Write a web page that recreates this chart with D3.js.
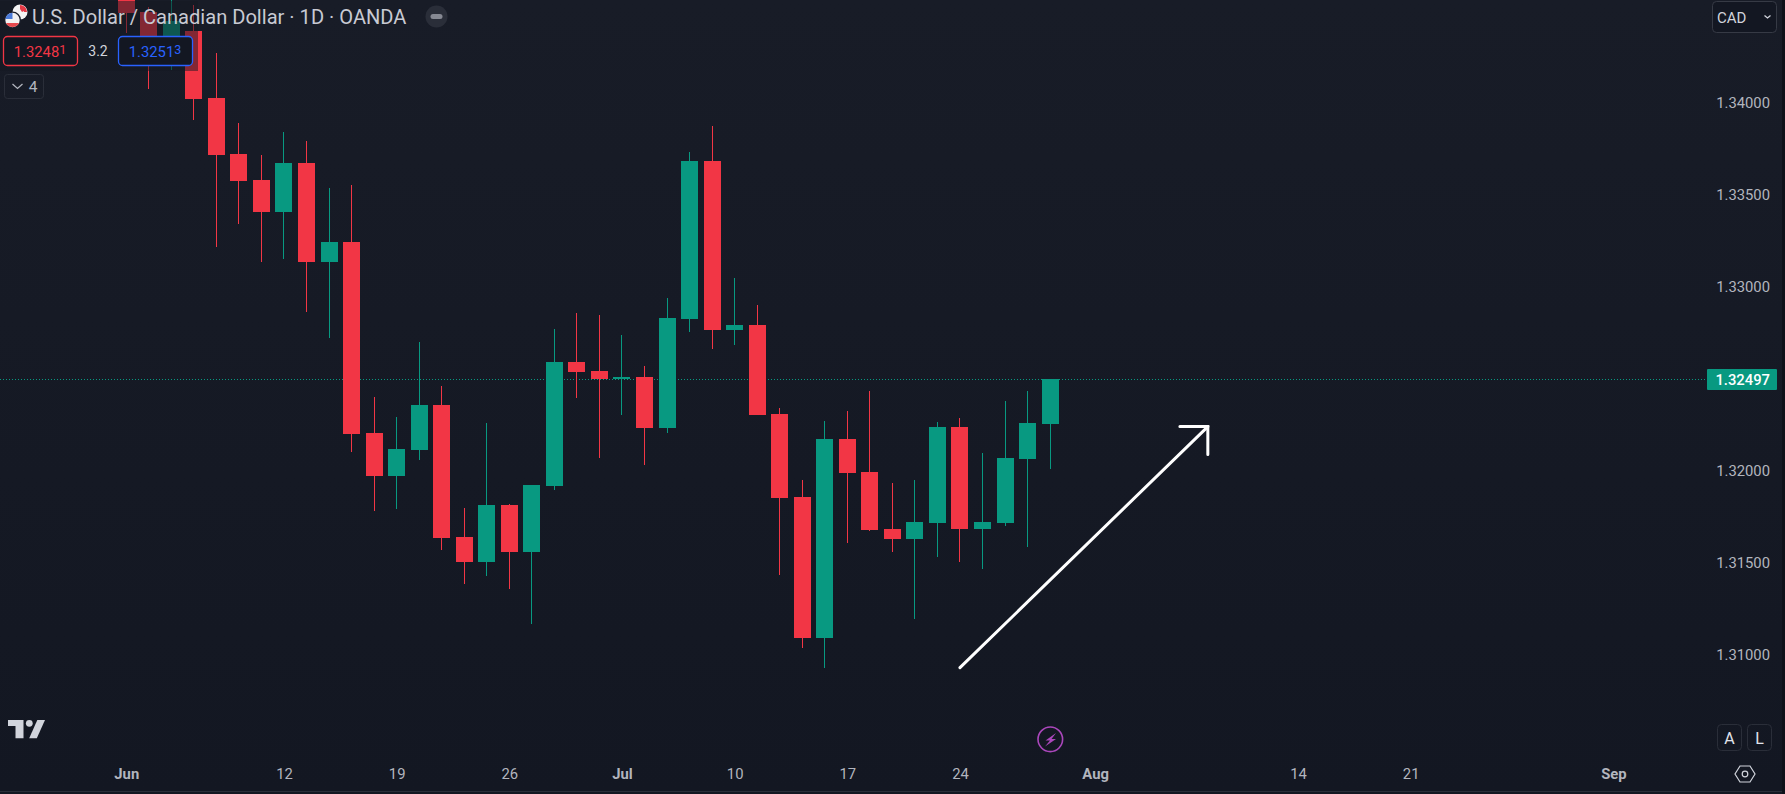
<!DOCTYPE html>
<html>
<head>
<meta charset="utf-8">
<script src="https://cdn.jsdelivr.net/npm/d3@7"></script>
<style>
  html, body { margin: 0; padding: 0; background: #131722; overflow: hidden; }
  text { font-family: Roboto, sans-serif; }
</style>
</head>
<body>
<svg id="chart" width="1785" height="794"></svg>
<script>
// USD/CAD daily candles, Jun 1 to Jul 28. Index = trading day.
const opens = [1.34603,1.34495,1.34315,1.34391,1.34027,1.33723,1.33582,1.33408,1.33674,1.33136,1.33245,1.32207,1.31973,1.32114,
  1.32359,1.31641,1.31505,1.31815,1.31560,1.31918,1.32592,1.32543,1.32500,1.32511,1.32234,1.32826,1.33685,1.32766,1.32793,1.32310,
  1.31859,1.31092,1.32174,1.31995,1.31685,1.31630,1.31717,1.32239,1.31685,1.31717,1.32065,1.32255];
const highs = [1.34668,1.34522,1.34614,1.34533,1.34272,1.33891,1.33717,1.33842,1.33793,1.33538,1.33554,1.32402,1.32293,1.32701,
  1.32462,1.31799,1.32261,1.31821,1.31924,1.32772,1.32859,1.32848,1.32739,1.32571,1.32940,1.33734,1.33875,1.33049,1.32902,1.32342,
  1.31951,1.32272,1.32326,1.32435,1.31935,1.31951,1.32266,1.32288,1.32098,1.32380,1.32435,1.32497];
const lows = [1.34380,1.34076,1.34179,1.33908,1.33215,1.33342,1.33136,1.33152,1.32864,1.32723,1.32103,1.31783,1.31794,1.32060,
  1.31571,1.31386,1.31429,1.31359,1.31168,1.31897,1.32397,1.32071,1.32304,1.32033,1.32207,1.32755,1.32663,1.32685,1.32304,1.31435,
  1.31038,1.30929,1.31609,1.31674,1.31560,1.31196,1.31533,1.31505,1.31467,1.31701,1.31587,1.32011];
const closes = [1.34489,1.34315,1.34446,1.34022,1.33717,1.33576,1.33408,1.33674,1.33136,1.33245,1.32201,1.31973,1.32120,1.32359,
  1.31636,1.31505,1.31815,1.31560,1.31924,1.32592,1.32538,1.32500,1.32511,1.32234,1.32832,1.33685,1.32766,1.32793,1.32304,1.31853,
  1.31092,1.32174,1.31989,1.31679,1.31630,1.31723,1.32239,1.31685,1.31723,1.32071,1.32261,1.32497];

const priceTicks = [1.31, 1.315, 1.32, 1.33, 1.335, 1.34];
const dateTickIdx = [0, 7, 12, 17, 22, 27, 32, 37, 43, 52, 57, 66];
const dateTickLabels = ["Jun", "12", "19", "26", "Jul", "10", "17", "24", "Aug", "14", "21", "Sep"];
const monthLabels = ["Jun", "Jul", "Aug", "Sep"];
const lastPrice = 1.32497;

// trend arrow drawn on the chart: [bar index, price]
const arrowLine = [[37, 1.30929], [48, 1.32239]];
const arrowHead = [[46.76, 1.32239], [48, 1.32239], [48, 1.32087]];

const upColor = "#089981", downColor = "#f23645", textColor = "#b2b5be";

const svg = d3.select("#chart");

const grad = svg.append("defs").append("linearGradient")
  .attr("id", "bg").attr("x1", 0).attr("x2", 0).attr("y1", 0).attr("y2", 1);
grad.append("stop").attr("offset", 0).attr("stop-color", "#181c27");
grad.append("stop").attr("offset", 1).attr("stop-color", "#131722");
svg.append("rect").attr("width", 1785).attr("height", 794).attr("fill", "url(#bg)");

const x = d3.scaleLinear().domain([0, 66]).range([126.25, 1613.43]);
const y = d3.scaleLinear().domain([1.31, 1.34]).range([654.6, 102.6]);

// last price line sits under the candles
svg.append("line")
  .attr("x1", 0).attr("x2", 1707)
  .attr("y1", Math.floor(y(lastPrice)) + 0.5).attr("y2", Math.floor(y(lastPrice)) + 0.5)
  .attr("stroke", upColor).attr("stroke-width", 1).attr("stroke-dasharray", "1 2");

const candles = svg.append("g").attr("shape-rendering", "crispEdges")
  .selectAll("g").data(d3.range(opens.length)).enter().append("g")
  .attr("fill", i => closes[i] >= opens[i] ? upColor : downColor);

candles.append("rect")
  .attr("x", i => Math.floor(x(i)))
  .attr("width", 1)
  .attr("y", i => Math.round(y(highs[i])))
  .attr("height", i => Math.max(1, Math.round(y(lows[i])) - Math.round(y(highs[i]))));

candles.append("rect")
  .attr("x", i => Math.floor(x(i)) - 8)
  .attr("width", 17)
  .attr("y", i => Math.round(y(Math.max(opens[i], closes[i]))))
  .attr("height", i => Math.max(1, Math.round(y(Math.min(opens[i], closes[i]))) - Math.round(y(Math.max(opens[i], closes[i])))));

// arrow
const arrowGen = d3.line().x(d => x(d[0])).y(d => y(d[1]));
svg.append("path").attr("d", arrowGen(arrowLine))
  .attr("fill", "none").attr("stroke", "#fff").attr("stroke-width", 3).attr("stroke-linecap", "round");
svg.append("path").attr("d", arrowGen(arrowHead))
  .attr("fill", "none").attr("stroke", "#fff").attr("stroke-width", 3).attr("stroke-linecap", "round").attr("stroke-linejoin", "miter");

// the legend panel dims whatever is behind it
svg.append("rect").attr("x", 0).attr("y", 1).attr("width", 198).attr("height", 70)
  .attr("fill", "#131722").attr("fill-opacity", 0.5);

// price axis
const priceAxis = svg.append("g").attr("transform", "translate(1770,0)")
  .call(d3.axisLeft(y).tickValues(priceTicks).tickSize(0).tickPadding(0).tickFormat(d => d.toFixed(5)));
priceAxis.select(".domain").remove();
priceAxis.selectAll("text").attr("fill", textColor).style("font-size", "14.8px").style("font-family", "Roboto, sans-serif");

// time axis
const timeAxis = svg.append("g").attr("transform", "translate(0,779)")
  .call(d3.axisBottom(x).tickValues(dateTickIdx).tickSize(0).tickPadding(0)
    .tickFormat((d, i) => dateTickLabels[i]));
timeAxis.select(".domain").remove();
timeAxis.selectAll("text").attr("y", 0).attr("dy", 0).attr("fill", textColor)
  .style("font-size", "14.8px").style("font-family", "Roboto, sans-serif")
  .style("font-weight", (d, i) => monthLabels.includes(dateTickLabels[i]) ? 700 : 400);

// panel borders
svg.append("rect").attr("x", 0).attr("y", 791).attr("width", 1785).attr("height", 1).attr("fill", "#2a2e39");
svg.append("rect").attr("x", 1782).attr("y", 0).attr("width", 3).attr("height", 794).attr("fill", "#0e1119");

// last price tag
svg.append("rect").attr("x", 1707).attr("y", 369).attr("width", 70).attr("height", 21).attr("rx", 1).attr("fill", upColor);
svg.append("text").attr("x", 1770).attr("y", 384.5).attr("text-anchor", "end")
  .attr("fill", "#fff").style("font-size", "14.8px").style("font-weight", 500).text(lastPrice.toFixed(5));

// title
svg.append("text").attr("x", 32).attr("y", 24).attr("fill", "#c8cad3")
  .style("font-size", "20.1px").style("font-family", "Roboto, sans-serif")
  .text("U.S. Dollar / Canadian Dollar · 1D · OANDA");

// flags
const canada = svg.append("g");
canada.append("circle").attr("cx", 20).attr("cy", 12).attr("r", 7.5).attr("fill", "#f4f4f4");
canada.append("path").attr("d", "M20 5a7 7 0 0 1 7 7h-3v-1l-2 1-2-3z").attr("fill", "#e53945");
const usa = svg.append("g");
usa.append("circle").attr("cx", 12.5).attr("cy", 20).attr("r", 8.5).attr("fill", "#1b1f2b");
usa.append("circle").attr("cx", 12.5).attr("cy", 20).attr("r", 7.2).attr("fill", "#f2f2f2");
usa.append("path").attr("d", "M6 23h13a7.2 7.2 0 0 1-13 0z").attr("fill", "#e5484d");
usa.append("path").attr("d", "M5.4 19a7.2 7.2 0 0 1 7.1-6.2v6.2z").attr("fill", "#4b7bd8");

// hide button
svg.append("circle").attr("cx", 436.5).attr("cy", 16.5).attr("r", 11).attr("fill", "#2a2e39");
svg.append("rect").attr("x", 430.5).attr("y", 14).attr("width", 12).attr("height", 5).attr("rx", 2.5).attr("fill", "#868993");

// bid / ask boxes
function priceBox(left, color, main, sup) {
  svg.append("rect").attr("x", left + 0.5).attr("y", 36.5).attr("width", 74).attr("height", 29).attr("rx", 4)
    .attr("fill", "#131722").attr("stroke", color).attr("stroke-width", 1.3);
  const t = svg.append("text").attr("x", left + 37).attr("y", 57).attr("text-anchor", "middle")
    .attr("fill", color).style("font-size", "14.8px").text(main);
  t.append("tspan").attr("dy", -3).style("font-size", "12.5px").text(sup);
}
priceBox(3, downColor, "1.3248", "1");
priceBox(118, "#2962ff", "1.3251", "3");
svg.append("text").attr("x", 98).attr("y", 56).attr("text-anchor", "middle").attr("fill", "#d1d4dc")
  .style("font-size", "14px").text("3.2");

// collapsed indicators
svg.append("rect").attr("x", 4.5).attr("y", 74.5).attr("width", 39).attr("height", 24).attr("rx", 3)
  .attr("fill", "none").attr("stroke", "#2a2e39");
svg.append("path").attr("d", "M12.5 84l5 4.5 5-4.5").attr("fill", "none").attr("stroke", "#b2b5be").attr("stroke-width", 1.3);
svg.append("text").attr("x", 33).attr("y", 92).attr("text-anchor", "middle").attr("fill", "#b2b5be")
  .style("font-size", "15.5px").text("4");

// currency button
svg.append("rect").attr("x", 1712.5).attr("y", 1.5).attr("width", 64).attr("height", 31).attr("rx", 4)
  .attr("fill", "#131722").attr("stroke", "#363a45");
svg.append("text").attr("x", 1717).attr("y", 23).attr("fill", "#d1d4dc").style("font-size", "15px").text("CAD");
svg.append("path").attr("d", "M1764.5 15.5l3 2.5 3-2.5").attr("fill", "none").attr("stroke", "#d1d4dc").attr("stroke-width", 1.3);

// auto / log buttons
[["A", 1717.5], ["L", 1747.5]].forEach(function(b) {
  svg.append("rect").attr("x", b[1]).attr("y", 724.5).attr("width", 24).attr("height", 26).attr("rx", 4)
    .attr("fill", "none").attr("stroke", "#2a2e39");
  svg.append("text").attr("x", b[1] + 12).attr("y", 743.5).attr("text-anchor", "middle")
    .attr("fill", "#e0e3eb").style("font-size", "16px").text(b[0]);
});

// settings hexagon
svg.append("path").attr("d", "M1740 766h10l5 8-5 8h-10l-5-8z").attr("fill", "none").attr("stroke", "#d1d4dc").attr("stroke-width", 1.2);
svg.append("circle").attr("cx", 1745).attr("cy", 774).attr("r", 2.8).attr("fill", "none").attr("stroke", "#d1d4dc").attr("stroke-width", 1.2);

// logo
const logo = svg.append("g").attr("fill", "#d1d4dc");
logo.append("path").attr("d", "M8 720h15.5v18.3h-8v-12.3h-7.5z");
logo.append("circle").attr("cx", 29.3).attr("cy", 723.3).attr("r", 3.4);
logo.append("path").attr("d", "M37.3 720h7.7l-8.2 18.3h-7.6z");

// bolt badge
svg.append("circle").attr("cx", 1050.3).attr("cy", 739.3).attr("r", 12.3).attr("fill", "none").attr("stroke", "#ab47bc").attr("stroke-width", 1.6);
svg.append("path").attr("d", "M1056 733l-10.5 7.5h4.5l-5 6 11-7.5h-4.5z").attr("fill", "#ab47bc");
</script>
</body>
</html>
